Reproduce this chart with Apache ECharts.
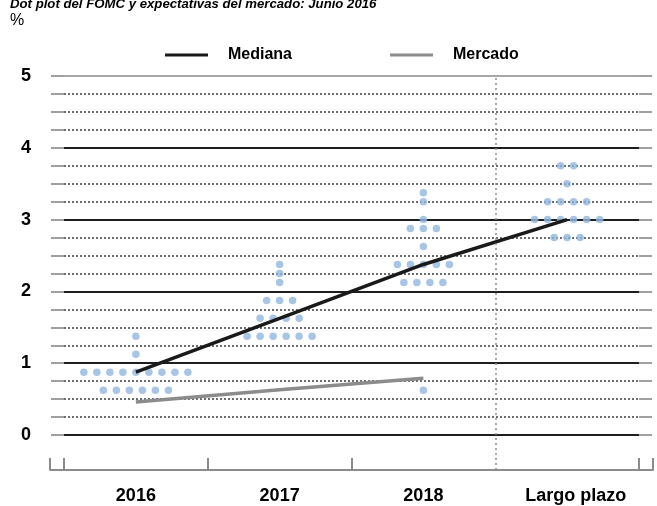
<!DOCTYPE html>
<html>
<head>
<meta charset="utf-8">
<script src="https://cdn.jsdelivr.net/npm/echarts@6/dist/echarts.min.js"></script>
<style>html,body{margin:0;padding:0;background:#fff}#c{width:657px;height:506px}</style>
</head>
<body>
<div id="c"></div>
<script>
// ---- data ----
const categories = ['2016', '2017', '2018', 'Largo plazo'];
const medianaValues = [0.875, 1.625, 2.375, 3.0];
const mercadoValues = [0.46, 0.63, 0.79];
// dot plot: [rate, number of participants]
const dots2016 = [[0.625, 6], [0.875, 9], [1.125, 1], [1.375, 1]];
const dots2017 = [[1.375, 6], [1.625, 4], [1.875, 3], [2.125, 1], [2.25, 1], [2.375, 1]];
const dots2018 = [[0.625, 1], [2.125, 4], [2.375, 5], [2.625, 1], [2.875, 3], [3.0, 1], [3.25, 1], [3.375, 1]];
const dotsLargoPlazo = [[2.75, 3], [3.0, 6], [3.25, 4], [3.5, 1], [3.75, 2]];
const yTicks = [0, 1, 2, 3, 4, 5];

const FONT = '"Liberation Sans", Arial, sans-serif';
const dotStep = 0.0905;
const dotGroups = [dots2016, dots2017, dots2018, dotsLargoPlazo];
const dotData = [];
dotGroups.forEach((g, ci) => {
  g.forEach(([rate, n]) => {
    for (let j = 0; j < n; j++) dotData.push([ci + (j - (n - 1) / 2) * dotStep, rate]);
  });
});
const ext = 14 / 143.75;

const chart = echarts.init(document.getElementById('c'), null, {renderer: 'canvas'});
chart.setOption({
  animation: false,
  title: {
    text: 'Dot plot del FOMC y expectativas del mercado: Junio 2016',
    left: 10, top: -2, padding: 0,
    textStyle: {fontFamily: FONT, fontSize: 13.2, fontWeight: 'bold', fontStyle: 'italic', color: '#000'}
  },
  graphic: [{
    type: 'text', left: 10, top: 13,
    style: {text: '%', font: '16px ' + FONT, fill: '#000'}
  }],
  legend: {
    left: 160, top: 42, itemWidth: 43, itemHeight: 3, itemGap: 98, icon: 'rect',
    textStyle: {fontFamily: FONT, fontSize: 16, fontWeight: 'bold', color: '#000', padding: [0, 0, 0, 15]},
    data: ['Mediana', 'Mercado']
  },
  grid: [
    {left: 64, right: 18, top: 76, bottom: 71},
    {left: 50, right: 4, top: 435, bottom: 36}
  ],
  xAxis: [
    {gridIndex: 0, type: 'value', min: -0.5, max: 3.5, show: false},
    {
      gridIndex: 1, type: 'value', min: -0.5 - ext, max: 3.5 + ext, position: 'bottom',
      axisLine: {show: true, onZero: false, lineStyle: {color: '#8c8c8c', width: 2}},
      axisTick: {show: true, inside: true, length: 12, lineStyle: {color: '#8c8c8c', width: 2},
        customValues: [-0.5 - ext, -0.5, 0.5, 1.5, 3.5, 3.5 + ext]},
      axisLabel: {show: true, margin: 17, fontFamily: FONT, fontSize: 18, fontWeight: 'bold', color: '#000',
        customValues: [0, 1, 2, 3.06],
        formatter: v => categories[Math.round(v)]},
      splitLine: {show: false}
    }
  ],
  yAxis: [
    {
      gridIndex: 0, type: 'value', min: 0, max: 5, interval: 1, position: 'left',
      axisLine: {show: false, onZero: false},
      axisTick: {show: true, length: 13, lineStyle: {color: '#a0a0a0', width: 2}},
      minorTick: {show: true, splitNumber: 4, length: 13, lineStyle: {color: '#a0a0a0', width: 2}},
      axisLabel: {margin: 33, fontFamily: FONT, fontSize: 18, fontWeight: 'bold', color: '#000',
        formatter: v => yTicks.includes(v) ? String(v) : ''},
      splitLine: {show: true, lineStyle: {color: ['#1e1e1e', '#1e1e1e', '#1e1e1e', '#1e1e1e', '#1e1e1e', '#a6a6a6'], width: 2}},
      minorSplitLine: {show: true, lineStyle: {color: '#3c3c3c', width: 1.5, type: [2, 2]}}
    },
    {
      gridIndex: 0, type: 'value', min: 0, max: 5, interval: 1, position: 'right',
      axisLine: {show: false, onZero: false},
      axisTick: {show: true, length: 13, lineStyle: {color: '#a0a0a0', width: 2}},
      minorTick: {show: true, splitNumber: 4, length: 13, lineStyle: {color: '#a0a0a0', width: 2}},
      axisLabel: {show: false},
      splitLine: {show: false}
    },
    {gridIndex: 1, type: 'value', show: false}
  ],
  series: [
    {
      name: 'Dots', type: 'scatter', xAxisIndex: 0, yAxisIndex: 0, z: 3,
      symbolSize: 7.5, itemStyle: {color: '#92b6de'},
      data: dotData,
      markLine: {
        silent: true, symbol: 'none', label: {show: false},
        lineStyle: {color: '#8c8c8c', type: [2, 3], width: 1.5},
        data: [{xAxis: 2.5}]
      }
    },
    {
      name: 'Mediana', type: 'line', xAxisIndex: 0, yAxisIndex: 0, z: 4,
      symbol: 'none', lineStyle: {color: '#1a1a1a', width: 3.5}, itemStyle: {color: '#1a1a1a'},
      data: medianaValues.map((v, i) => [i, v])
    },
    {
      name: 'Mercado', type: 'line', xAxisIndex: 0, yAxisIndex: 0, z: 4,
      symbol: 'none', lineStyle: {color: '#8c8c8c', width: 3.5}, itemStyle: {color: '#8c8c8c'},
      data: mercadoValues.map((v, i) => [i, v])
    },
    {
      name: 'sep', type: 'line', xAxisIndex: 1, yAxisIndex: 2, data: [],
      markLine: {
        silent: true, symbol: 'none', label: {show: false},
        lineStyle: {color: '#8c8c8c', type: [2, 3], width: 1.5},
        data: [{xAxis: 2.5}]
      }
    }
  ]
});
</script>
</body>
</html>
